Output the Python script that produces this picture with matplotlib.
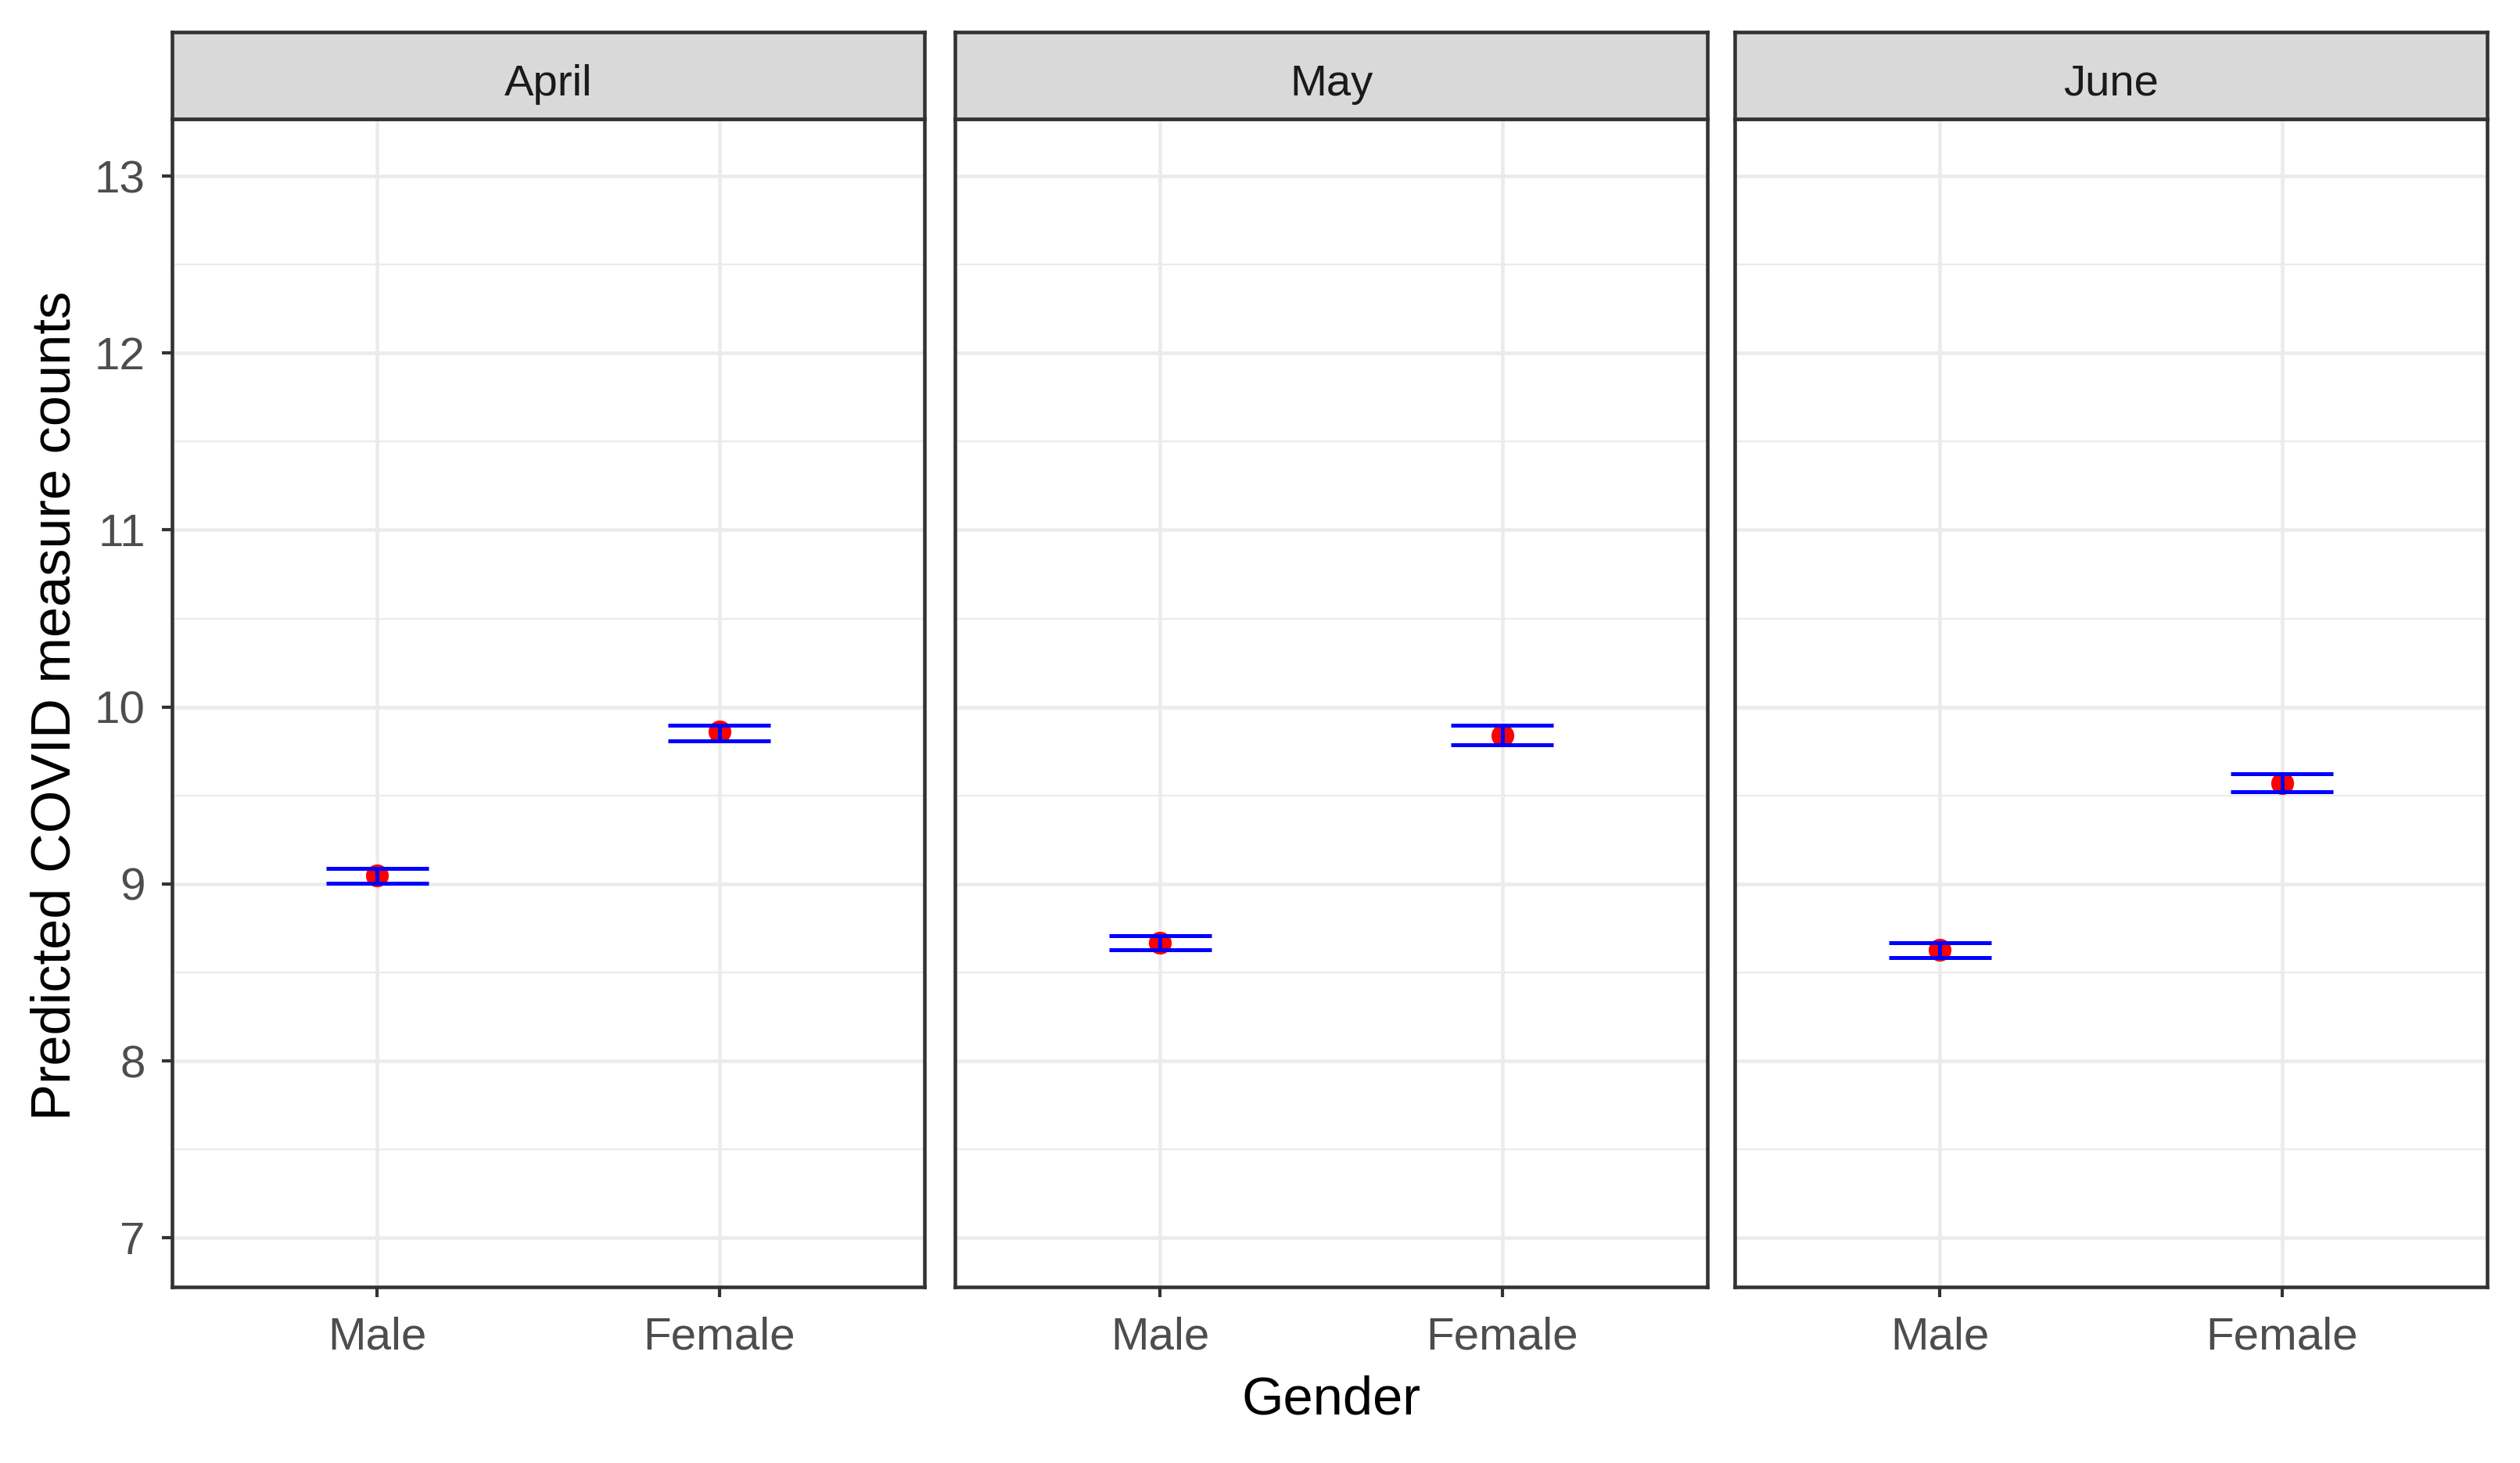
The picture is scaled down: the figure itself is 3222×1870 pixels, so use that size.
import matplotlib.pyplot as plt
from matplotlib.ticker import MultipleLocator

plt.rcParams['font.family'] = ['Liberation Sans', 'DejaVu Sans']

# Predicted counts with confidence limits
months = ['April', 'May', 'June']
genders = ['Male', 'Female']
means = [[9.05, 9.86], [8.67, 9.84], [8.63, 9.57]]
lower = [[9.005, 9.81], [8.63, 9.785], [8.585, 9.52]]
upper = [[9.09, 9.895], [8.71, 9.895], [8.67, 9.625]]

fig = plt.figure(figsize=(3222 / 300, 1870 / 300), dpi=300)

panel_x = [220, 1221, 2218]
panel_w = 962
W, H = 3222, 1870
ax_bottom = (H - 1645) / H
ax_top = (H - 152) / H
strip_top = (H - 41) / H

axes = []
for i, month in enumerate(months):
    left = panel_x[i] / W
    ax = fig.add_axes([left, ax_bottom, panel_w / W, ax_top - ax_bottom])
    axes.append(ax)
    xs = list(range(len(genders)))

    ax.plot(xs, means[i], 'o', color='red', markersize=7, zorder=3,
            markeredgewidth=0)
    ax.hlines(lower[i], [x - 0.15 for x in xs], [x + 0.15 for x in xs],
              color='blue', linewidth=1.2, zorder=4)
    ax.hlines(upper[i], [x - 0.15 for x in xs], [x + 0.15 for x in xs],
              color='blue', linewidth=1.2, zorder=4)
    ax.vlines(xs, lower[i], upper[i], color='blue', linewidth=1.2, zorder=4)

    ax.set_xlim(-0.6, 1.6)
    ax.set_ylim(6.723, 13.323)
    ax.set_xticks(xs)
    ax.set_xticklabels(genders)
    ax.yaxis.set_major_locator(MultipleLocator(1))
    ax.yaxis.set_minor_locator(MultipleLocator(0.5))
    ax.grid(which='major', color='#EBEBEB', linewidth=1.1, zorder=0)
    ax.grid(which='minor', axis='y', color='#EBEBEB', linewidth=0.55, zorder=0)
    ax.set_axisbelow(True)
    ax.tick_params(which='major', length=3.2, width=1.0, color='#333333',
                   labelsize=14, labelcolor='#4D4D4D', pad=5)
    ax.tick_params(axis='x', pad=5.8)
    ax.tick_params(which='minor', length=0)
    for sp in ax.spines.values():
        sp.set_color('#333333')
        sp.set_linewidth(1.1)
    if i > 0:
        ax.tick_params(axis='y', which='both', left=False, labelleft=False)

    # facet strip
    sax = fig.add_axes([left, ax_top, panel_w / W, strip_top - ax_top])
    sax.set_facecolor('#D9D9D9')
    sax.set_xticks([])
    sax.set_yticks([])
    for sp in sax.spines.values():
        sp.set_color('#333333')
        sp.set_linewidth(1.1)
    sax.text(0.5, 0.4, month, ha='center', va='center', fontsize=13.5,
             color='#1A1A1A', transform=sax.transAxes)

fig.text((1221 + 962 / 2) / W, (H - 1790) / H, 'Gender', ha='center',
         va='center', fontsize=16.5, color='black')
fig.text(72 / W, (ax_bottom + ax_top) / 2 - 0.002, 'Predicted COVID measure counts',
         ha='center', va='center', rotation=90, fontsize=16.9, color='black')

fig.savefig('out.png', dpi=300, facecolor='white')
